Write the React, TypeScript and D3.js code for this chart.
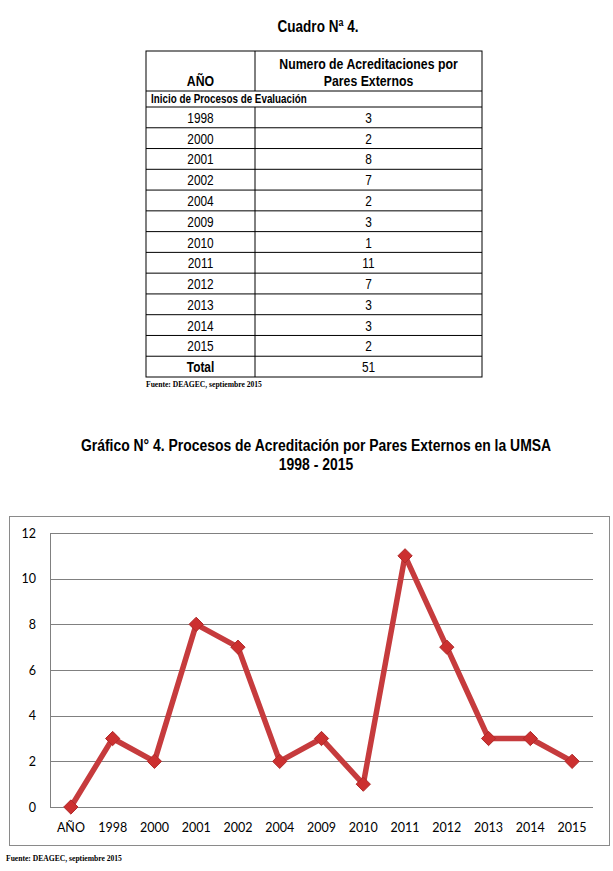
import React, { useEffect, useRef } from "react";
import * as d3 from "d3";

// table data
const years = ["1998", "2000", "2001", "2002", "2004", "2009", "2010", "2011", "2012", "2013", "2014", "2015"];
const counts = [3, 2, 8, 7, 2, 3, 1, 11, 7, 3, 3, 2];
const total = 51;

// chart data (first point is the "AÑO" header row plotted as 0)
const categories = ["AÑO", ...years];
const values = [0, ...counts];
const yTicks = [0, 2, 4, 6, 8, 10, 12];

// no Arial Narrow available: squeeze Liberation Sans horizontally
const sans = "'Liberation Sans', Arial, sans-serif";
const serif = "'Liberation Serif', 'Times New Roman', serif";
const squeeze = 0.82;

const App = () => {
  const svgRef = useRef(null);

  useEffect(() => {
    const svg = d3.select(svgRef.current);
    svg.selectAll("*").remove();

    const narrowText = (g: any, x: number, y: number, txt: any, size: number, bold = false, anchor = "middle") =>
      g.append("text")
        .attr("transform", `translate(${x},${y}) scale(${squeeze},1)`)
        .attr("text-anchor", anchor)
        .attr("font-family", sans)
        .attr("font-size", size)
        .attr("font-weight", bold ? "bold" : "normal")
        .attr("fill", "#000")
        .text(txt);

    // ---------- table ----------
    const tLeft = 146, tRight = 482, tDiv = 255, tTop = 51;
    narrowText(svg, 318, 32, "Cuadro Nª 4.", 16.5, true);

    const rowLabels = [...years, "Total"];
    const rowValues = [...counts, total];
    const rows = d3.scaleBand().domain(rowLabels).range([107, 377]);

    const t = svg.append("g");
    t.append("rect")
      .attr("x", tLeft).attr("y", tTop)
      .attr("width", tRight - tLeft).attr("height", 377 - tTop)
      .attr("fill", "none").attr("stroke", "#000").attr("stroke-width", 1);
    const hLines = [91, ...rowLabels.map((r) => rows(r))];
    t.selectAll("line.h").data(hLines).enter().append("line")
      .attr("x1", tLeft).attr("x2", tRight)
      .attr("y1", (d) => d).attr("y2", (d) => d)
      .attr("stroke", "#000");
    // divider skips the "Inicio" row
    t.append("line").attr("x1", tDiv).attr("x2", tDiv).attr("y1", tTop).attr("y2", 91).attr("stroke", "#000");
    t.append("line").attr("x1", tDiv).attr("x2", tDiv).attr("y1", 107).attr("y2", 377).attr("stroke", "#000");

    narrowText(t, (tLeft + tDiv) / 2, 86, "AÑO", 15, true);
    narrowText(t, (tDiv + tRight) / 2, 69, "Numero de Acreditaciones por", 15, true);
    narrowText(t, (tDiv + tRight) / 2, 86, "Pares Externos", 15, true);
    narrowText(t, tLeft + 5, 103, "Inicio de Procesos de Evaluación", 12, true, "start");

    rowLabels.forEach((r, i) => {
      const y = rows(r) + rows.bandwidth() / 2 + 5.5;
      narrowText(t, (tLeft + tDiv) / 2, y, r, 14.5, r === "Total");
      narrowText(t, (tDiv + tRight) / 2, y, rowValues[i], 14.5);
    });

    svg.append("text").attr("x", 146).attr("y", 387)
      .attr("font-family", serif).attr("font-weight", "bold").attr("font-size", 7.6)
      .text("Fuente: DEAGEC, septiembre 2015");

    // ---------- chart ----------
    narrowText(svg, 316, 451, "Gráfico N° 4. Procesos de Acreditación por Pares Externos en la UMSA", 17, true);
    narrowText(svg, 316, 470, "1998 - 2015", 17, true);

    svg.append("rect")
      .attr("x", 9.5).attr("y", 516.5).attr("width", 600).attr("height", 329)
      .attr("fill", "#fff").attr("stroke", "#8a8a8a").attr("stroke-width", 1);

    const x = d3.scaleBand().domain(categories).range([50, 593]);
    const y = d3.scaleLinear().domain([0, 12]).range([807, 533]);

    svg.append("g").selectAll("line").data(yTicks).enter().append("line")
      .attr("x1", 50).attr("x2", 593)
      .attr("y1", (d) => Math.round(y(d)) + 0.5).attr("y2", (d) => Math.round(y(d)) + 0.5)
      .attr("stroke", "#808080").attr("stroke-width", 1);
    svg.append("line")
      .attr("x1", 50.5).attr("x2", 50.5).attr("y1", y(12)).attr("y2", y(0))
      .attr("stroke", "#808080");

    svg.append("g").selectAll("text").data(yTicks).enter().append("text")
      .attr("x", 36).attr("y", (d) => y(d) + 4.5)
      .attr("text-anchor", "end")
      .attr("font-family", "Lato, 'Open Sans', sans-serif").attr("font-size", 12.5)
      .attr("fill", "#000")
      .text((d) => d);

    svg.append("g").selectAll("text").data(categories).enter().append("text")
      .attr("x", (d) => x(d) + x.bandwidth() / 2).attr("y", 832)
      .attr("text-anchor", "middle")
      .attr("font-family", "Lato, 'Open Sans', sans-serif").attr("font-size", 12.5)
      .attr("fill", "#000")
      .text((d) => d);

    const px = (_: any, i: number) => x(categories[i]) + x.bandwidth() / 2;
    const line = d3.line<number>().x(px).y((d) => y(d));

    svg.append("path")
      .datum(values)
      .attr("d", line)
      .attr("fill", "none")
      .attr("stroke", "#c63b3d")
      .attr("stroke-width", 5.5)
      .attr("stroke-linejoin", "round");

    const diamond = d3.symbol().type(d3.symbolDiamond2).size(130);
    svg.append("g").selectAll("path").data(values).enter().append("path")
      .attr("d", diamond)
      .attr("transform", (d, i) => `translate(${px(d, i)},${y(d)})`)
      .attr("fill", "#cc3030")
      .attr("stroke", "#b02a2a")
      .attr("stroke-width", 1);

    svg.append("text").attr("x", 6).attr("y", 861)
      .attr("font-family", serif).attr("font-weight", "bold").attr("font-size", 7.6)
      .text("Fuente: DEAGEC, septiembre 2015");
  }, []);

  return (
    <svg
      ref={svgRef}
      width={613}
      height={871}
      style={{ position: "absolute", left: 0, top: 0, background: "#fff" }}
    />
  );
};

export default App;
